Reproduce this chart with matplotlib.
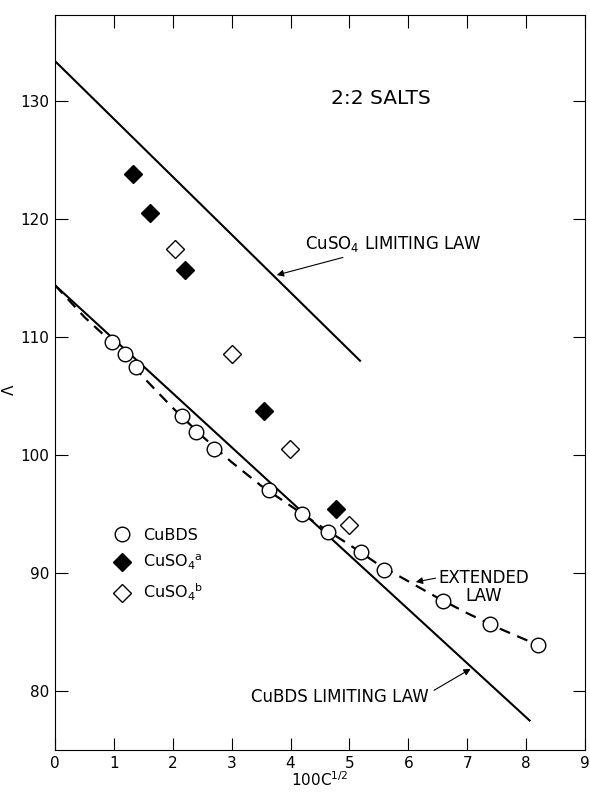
import matplotlib
matplotlib.use('Agg')
import matplotlib.pyplot as plt

# CuBDS measured points (open circles)
bds_x = [0.97, 1.19, 1.38, 2.16, 2.39, 2.70, 3.64, 4.19, 4.63, 5.19, 5.59, 6.59, 7.39, 8.20]
bds_y = [109.6, 108.6, 107.5, 103.3, 102.0, 100.5, 97.0, 95.0, 93.5, 91.8, 90.3, 87.6, 85.7, 83.9]

# CuSO4 (a) filled diamonds, (b) open diamonds
so4a_x = [1.32, 1.62, 2.21, 3.55, 4.77]
so4a_y = [123.8, 120.5, 115.7, 103.7, 95.4]
so4b_x = [2.03, 3.00, 3.99, 5.00]
so4b_y = [117.5, 108.6, 100.5, 94.1]

# limiting laws (end points of the straight lines)
lim_so4_x = [0.0, 5.18]
lim_so4_y = [133.4, 108.0]
lim_bds_x = [0.0, 8.06]
lim_bds_y = [114.4, 77.5]

# extended law (dashed)
ext_x = [0.0, 0.5, 1.0, 1.5, 2.0, 2.5, 3.0, 3.5, 4.0, 4.5, 5.0, 5.5, 6.0, 6.5, 7.0, 7.5, 8.2]
ext_y = [114.4, 111.7, 109.4, 106.6, 104.0, 101.6, 99.4, 97.4, 95.7, 94.0, 92.4, 90.7, 89.3, 87.9, 86.6, 85.4, 83.9]

x_ticks = [0, 1, 2, 3, 4, 5, 6, 7, 8, 9]
y_ticks = [80, 90, 100, 110, 120, 130]

fig = plt.figure(figsize=(5.9, 7.93), dpi=100)
ax = fig.add_axes([0.0932, 0.0542, 0.8983, 0.9268])

ax.plot(lim_so4_x, lim_so4_y, color='black', lw=1.5, zorder=2)
ax.plot(lim_bds_x, lim_bds_y, color='black', lw=1.5, zorder=2)
ax.plot(ext_x, ext_y, color='black', lw=1.6, dashes=(5, 3.5), zorder=2)

h1, = ax.plot(bds_x, bds_y, 'o', ms=10.5, mfc='white', mec='black', mew=1.0, ls='None', zorder=4)
h2, = ax.plot(so4a_x, so4a_y, 'D', ms=9.5, mfc='black', mec='black', mew=1.0, ls='None', zorder=4)
h3, = ax.plot(so4b_x, so4b_y, 'D', ms=9.5, mfc='white', mec='black', mew=1.0, ls='None', zorder=4)

ax.legend([h1, h2, h3], ['CuBDS', r'CuSO$_4$$^{\mathrm{a}}$', r'CuSO$_4$$^{\mathrm{b}}$'],
          loc='upper left', bbox_to_anchor=(0.112, 0.302), frameon=False,
          fontsize=11.5, handlelength=1.0, handletextpad=0.8, labelspacing=0.6,
          borderpad=0, borderaxespad=0)

ax.set_xlim(0, 9)
ax.set_ylim(75, 137.3)
ax.set_xticks(x_ticks)
ax.set_yticks(y_ticks)
ax.tick_params(direction='in', length=9, width=0.8, top=True, right=True,
               labelsize=11, pad=4)
for s in ax.spines.values():
    s.set_linewidth(0.8)

ax.set_xlabel(r'100C$^{1/2}$', fontsize=11, labelpad=0)
ax.set_ylabel('\u039b', fontsize=11)
ax.yaxis.set_label_coords(-0.071, 0.49)

ax.text(5.53, 130.25, '2:2 SALTS', fontsize=14.5, ha='center', va='center')

ax.annotate(r'CuSO$_4$ LIMITING LAW', xy=(3.72, 115.2), xytext=(4.25, 117.9),
            fontsize=12, ha='left', va='center',
            arrowprops=dict(arrowstyle='-|>', color='black', lw=0.8, mutation_scale=10))
ax.annotate('EXTENDED\nLAW', xy=(6.08, 89.2), xytext=(7.28, 88.85),
            fontsize=12, ha='center', va='center', linespacing=1.0,
            arrowprops=dict(arrowstyle='-|>', color='black', lw=0.8, mutation_scale=10,
                            shrinkA=0, relpos=(0.0, 0.75)))
ax.annotate('CuBDS LIMITING LAW', xy=(7.10, 82.0), xytext=(4.84, 79.5),
            fontsize=12, ha='center', va='center',
            arrowprops=dict(arrowstyle='-|>', color='black', lw=0.8, mutation_scale=10,
                            relpos=(1.0, 0.7)))

fig.savefig('out.png', dpi=100)
plt.close('all')
